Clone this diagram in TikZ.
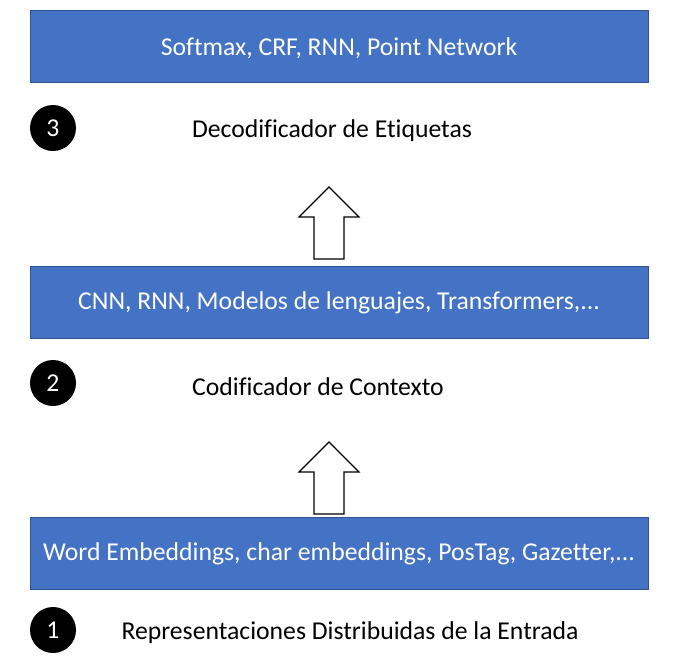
\documentclass[tikz,border=0pt]{standalone}
\usepackage{fontspec}
\setmainfont{Carlito}[Ligatures=NoCommon]
\definecolor{boxblue}{HTML}{4472C4}
\definecolor{boxedge}{HTML}{2F528F}
\begin{document}
\begin{tikzpicture}[x=1pt,y=-1pt,
  layer/.style={draw=boxedge,line width=1pt,fill=boxblue,minimum width=618pt,minimum height=72pt,inner sep=0pt},
  layertext/.style={text=white,inner sep=0pt,font=\fontsize{25.7}{30}\selectfont},
  num/.style={circle,fill=black,text=white,minimum size=46pt,inner sep=0pt,font=\fontsize{25.7}{30}\selectfont},
  lbl/.style={font=\fontsize{25.7}{30}\selectfont,inner sep=0pt},
  uparrow/.style={draw=black,line width=1.2pt,fill=white,line join=miter}]
\useasboundingbox (0,0) rectangle (698,670);
\node[layer] (b3) at (339,46) {};
\node[layertext] (b3t) at (339,48) {Softmax, CRF, RNN, Point Network};
\node[num] (c3) at (53,128) {3};
\node[lbl] (t3) at (332,131) {Decodificador de Etiquetas};
\node[layer] (b2) at (339,302) {};
\node[layertext] (b2t) at (339,303) {CNN, RNN, Modelos de lenguajes, Transformers,...};
\node[num] (c2) at (53,383) {2};
\node[lbl] (t2) at (318,387) {Codificador de Contexto};
\node[layer] (b1) at (339,553) {};
\node[layertext] (b1t) at (339,554) {Word Embeddings, char embeddings, PosTag, Gazetter,...};
\node[num] (c1) at (53,630) {1};
\node[lbl] (t1) at (350,633) {Representaciones Distribuidas de la Entrada};
\coordinate (a1) at (329,259);
\coordinate (a2) at (329,514);
\draw[uparrow] (a1) ++(-15,0) -- ++(0,-42) -- ++(-15,0) -- ++(30,-30) -- ++(30,30) -- ++(-15,0) -- ++(0,42) -- cycle;
\draw[uparrow] (a2) ++(-15,0) -- ++(0,-42) -- ++(-15,0) -- ++(30,-30) -- ++(30,30) -- ++(-15,0) -- ++(0,42) -- cycle;
\end{tikzpicture}
\end{document}
